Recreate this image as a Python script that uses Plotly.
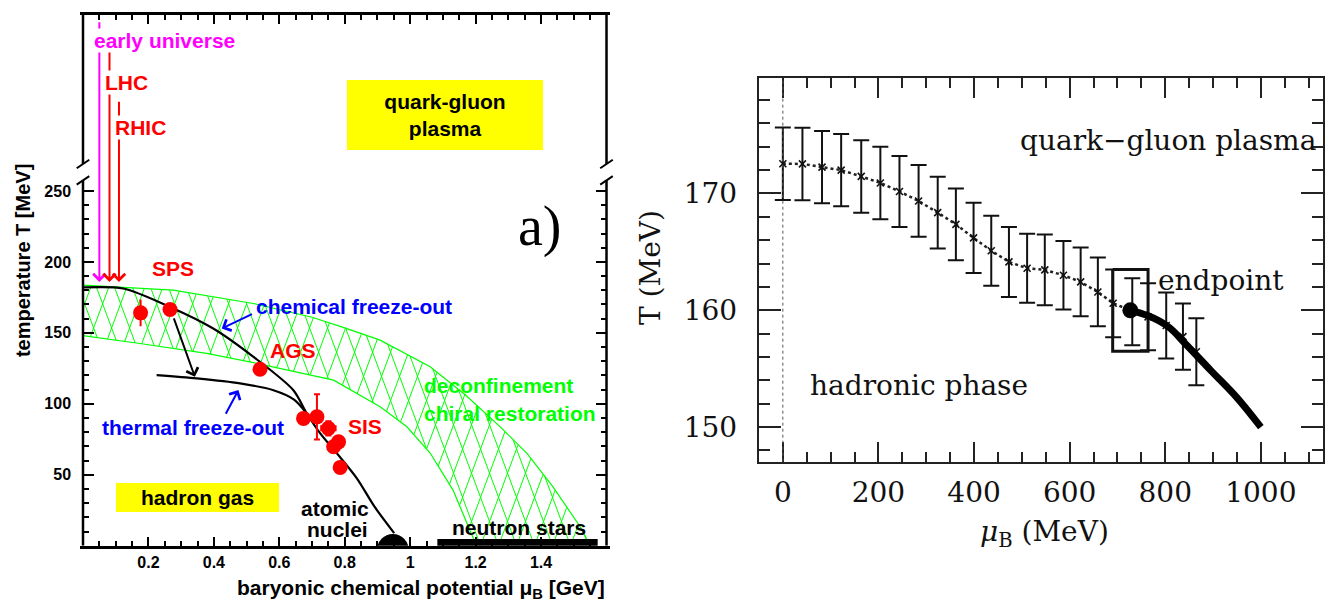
import numpy as np
import plotly.graph_objects as go

# ---------------- Left panel data (mu_B in GeV, T in MeV) ----------------
chem_mu = [0.0, 0.123, 0.266, 0.398, 0.521, 0.643, 0.684, 0.725, 0.776, 0.837, 0.891, 0.951]
chem_T = [182.0, 181.3, 168.3, 153.1, 133.1, 109.6, 93.2, 79.2, 65.1, 47.5, 27.5, 8.9]

therm_mu = [0.225, 0.348, 0.48, 0.582, 0.645, 0.684]
therm_T = [120.2, 117.9, 114.4, 109.6, 103.0, 93.2]

band_up_mu = [0.0, 0.276, 0.521, 0.70, 0.80, 0.908, 1.061, 1.17, 1.28, 1.357, 1.437, 1.52, 1.541]
band_up_T = [183.6, 180.1, 170.7, 161.0, 153.5, 144.9, 126.1, 106.0, 82.7, 65.1, 41.3, 13.2, 4.0]
band_lo_mu = [0.0, 0.174, 0.378, 0.531, 0.766, 0.908, 0.99, 1.061, 1.131, 1.183, 1.199]
band_lo_T = [148.0, 142.5, 135.5, 128.5, 116.7, 97.9, 83.8, 65.3, 39.2, 11.1, 1.9]

sps_mu = [0.176, 0.266]
sps_T = [164.1, 166.5]
sps_err = [9.4, 2.5]
ags_mu = [0.541]
ags_T = [124.4]
sis_mu = [0.674, 0.715, 0.750, 0.766, 0.781, 0.786]
sis_T = [89.7, 90.8, 82.7, 69.7, 73.2, 55.2]
sis_errT = [0.0, 16.0, 5.0, 0.0, 4.0, 0.0]
sis_errmu = [0.0, 0.0, 0.022, 0.0, 0.012, 0.0]

collider_mu = [0.050, 0.081, 0.110]
collider_top_T = [370.0, 349.0, 314.0]
collider_tip_T = 185.9
collider_labels = ["early universe", "LHC", "RHIC"]
collider_label_T = [356.1, 326.5, 294.9]
collider_label_mu = [0.031, 0.064, 0.096]
collider_colors = ["#ff00ff", "#ff0000", "#ff0000"]

nuclei_mu = [0.947]
nuclei_T = [-3.0]
nstar_mu = [1.083, 1.573]
nstar_T = [2.3, 2.3]

x_ticks_left = [0.2, 0.4, 0.6, 0.8, 1.0, 1.2, 1.4]
x_ticktext_left = ["0.2", "0.4", "0.6", "0.8", "1", "1.2", "1.4"]
y_ticks_left = [50, 100, 150, 200, 250]

# ---------------- Right panel data (MeV) ----------------
lat_mu = [0, 41, 82, 122, 164, 204, 244, 284, 324, 362, 399, 436, 473, 511, 548, 587,
          623, 659, 691, 731, 764, 802, 837, 865]
lat_T = [172.55, 172.53, 172.26, 172.0, 171.46, 170.9, 170.17, 169.36, 168.36, 167.36,
         166.2, 165.1, 164.14, 163.6, 163.46, 163.0, 162.43, 161.57, 160.6, 159.87,
         159.44, 158.7, 157.75, 156.45]
lat_err = [3.1, 3.1, 3.1, 3.1, 3.1, 3.1, 3.03, 3.07, 3.07, 3.07, 3.0, 3.0, 3.0, 2.95,
           3.03, 2.93, 2.94, 2.94, 2.9, 2.87, 2.87, 2.83, 2.83, 2.87]

crit_mu = [725, 762, 807, 842, 895, 949, 1000]
crit_T = [160.0, 159.57, 158.57, 157.14, 154.86, 152.57, 150.0]

ep_mu, ep_T, ep_dmu, ep_dT = 727.0, 160.0, 37.0, 3.5

x_ticks_right = [0, 200, 400, 600, 800, 1000]
y_ticks_right = [150, 160, 170]

# ---------------- styles ----------------
GREEN = "#00ff00"
RED = "#ff0000"
BLUE = "#0000ff"
SANS = "Liberation Sans"
SERIF = "DejaVu Serif"
HATCH_SPACING = 0.055     # GeV between parallel hatch lines
HATCH_SLOPE = 620.0       # MeV per GeV
BREAK_LO, BREAK_HI = 257.5, 269.0
Y_TOP = 374.0


def hatch_segments():
    grid = np.linspace(0.0, 1.6, 4001)
    up = np.interp(grid, band_up_mu, band_up_T, right=-1.0)
    lo = np.maximum(np.interp(grid, band_lo_mu, band_lo_T, right=0.0), 0.0)
    xs, ys = [], []
    for sign in (1, -1):
        for c in np.arange(-0.6, 2.3, HATCH_SPACING):
            tl = sign * HATCH_SLOPE * (grid - c)
            inside = (tl <= up) & (tl >= lo) & (up > lo)
            idx = np.flatnonzero(inside)
            if idx.size < 2:
                continue
            splits = np.where(np.diff(idx) > 1)[0]
            starts = np.r_[idx[0], idx[splits + 1]]
            ends = np.r_[idx[splits], idx[-1]]
            for a, b in zip(starts, ends):
                if b > a:
                    xs += [grid[a], grid[b], None]
                    ys += [tl[a], tl[b], None]
    return xs, ys


fig = go.Figure()

hx, hy = hatch_segments()
L = dict(xaxis="x", yaxis="y", hoverinfo="skip", showlegend=False)
R = dict(xaxis="x2", yaxis="y2", hoverinfo="skip", showlegend=False)

fig.add_trace(go.Scatter(x=hx, y=hy, mode="lines", line=dict(color=GREEN, width=1), **L))
fig.add_trace(go.Scatter(x=band_up_mu, y=band_up_T, mode="lines", line=dict(color=GREEN, width=1.2), **L))
fig.add_trace(go.Scatter(x=band_lo_mu, y=band_lo_T, mode="lines", line=dict(color=GREEN, width=1.2), **L))

fig.add_trace(go.Scatter(x=chem_mu, y=chem_T, mode="lines",
                         line=dict(color="black", width=2.2, shape="spline", smoothing=0.8), **L))
fig.add_trace(go.Scatter(x=therm_mu, y=therm_T, mode="lines",
                         line=dict(color="black", width=2.2, shape="spline", smoothing=0.8), **L))

fig.add_trace(go.Scatter(x=sps_mu, y=sps_T, mode="markers",
                         marker=dict(color=RED, size=15),
                         error_y=dict(type="data", array=sps_err, color=RED, thickness=2, width=0), **L))
fig.add_trace(go.Scatter(x=ags_mu, y=ags_T, mode="markers", marker=dict(color=RED, size=15), **L))
fig.add_trace(go.Scatter(x=sis_mu, y=sis_T, mode="markers",
                         marker=dict(color=RED, size=15),
                         error_y=dict(type="data", array=sis_errT, color=RED, thickness=2, width=3),
                         error_x=dict(type="data", array=sis_errmu, color=RED, thickness=2, width=3), **L))

fig.add_trace(go.Scatter(x=nstar_mu, y=nstar_T, mode="lines", line=dict(color="black", width=7), **L))
fig.add_trace(go.Scatter(x=nuclei_mu, y=nuclei_T, mode="markers", marker=dict(color="black", size=32),
                         cliponaxis=True, **L))

# ---------------- right panel traces ----------------
dot_mu = [m for m in lat_mu if m < ep_mu] + [ep_mu]
dot_T = [t for m, t in zip(lat_mu, lat_T) if m < ep_mu] + [ep_T]
fig.add_trace(go.Scatter(x=dot_mu, y=dot_T, mode="lines",
                         line=dict(color="#222222", width=2.5, dash="dot"), **R))
fig.add_trace(go.Scatter(x=lat_mu, y=lat_T, mode="markers",
                         marker=dict(symbol="x-thin", size=7, line=dict(width=1.6, color="#111111")),
                         error_y=dict(type="data", array=lat_err, color="#111111", thickness=2, width=8), **R))
box_x = [ep_mu - ep_dmu, ep_mu + ep_dmu, ep_mu + ep_dmu, ep_mu - ep_dmu, ep_mu - ep_dmu]
box_y = [ep_T + ep_dT, ep_T + ep_dT, ep_T - ep_dT, ep_T - ep_dT, ep_T + ep_dT]
fig.add_trace(go.Scatter(x=box_x, y=box_y, mode="lines", line=dict(color="#111111", width=3), **R))
fig.add_trace(go.Scatter(x=crit_mu, y=crit_T, mode="lines",
                         line=dict(color="black", width=7, shape="spline"), **R))
fig.add_trace(go.Scatter(x=[ep_mu], y=[ep_T], mode="markers", marker=dict(color="black", size=16), **R))

# ---------------- axes ----------------
bold_tick = dict(family=SANS, size=16, color="black", weight="bold")
fig.update_layout(
    width=1325, height=601, margin=dict(l=0, r=0, t=0, b=0),
    paper_bgcolor="white", plot_bgcolor="rgba(0,0,0,0)", showlegend=False,
    xaxis=dict(domain=[0.06264, 0.45774], range=[0, 1.6], anchor="y",
               showline=True, linecolor="black", linewidth=2.5, mirror="ticks",
               ticks="inside", ticklen=9, tickwidth=1.5, tickcolor="black",
               tickvals=x_ticks_left, ticktext=x_ticktext_left, tickfont=bold_tick,
               ticklabelstandoff=0,
               minor=dict(tickvals=list(np.round(np.arange(0.05, 1.6, 0.05), 3)),
                          ticks="inside", ticklen=5, tickwidth=1.5, tickcolor="black"),
               showgrid=False, zeroline=False),
    yaxis=dict(domain=[0.092, 0.975], range=[0, Y_TOP], anchor="x",
               showline=True, linecolor="rgba(0,0,0,0)", linewidth=2.5, mirror="ticks",
               ticks="inside", ticklen=11, tickwidth=1.5, tickcolor="black",
               tickvals=y_ticks_left, tickfont=bold_tick, ticklabelstandoff=6,
               minor=dict(tickvals=list(range(10, 260, 10)), ticks="inside", ticklen=6,
                          tickwidth=1.5, tickcolor="black"),
               showgrid=False, zeroline=False),
    xaxis2=dict(domain=[0.5726, 0.9985], range=[-50.5, 1130], anchor="y2",
                showline=True, linecolor="#222222", linewidth=2, mirror="ticks",
                ticks="inside", ticklen=20, tickwidth=1.5, tickcolor="#222222",
                tickvals=x_ticks_right,
                tickfont=dict(family=SERIF, size=28, color="#111111"), ticklabelstandoff=5,
                minor=dict(tickvals=list(range(-50, 1131, 50)), ticks="inside", ticklen=10,
                           tickwidth=1.5, tickcolor="#222222"),
                showgrid=False, zeroline=False),
    yaxis2=dict(domain=[0.2318, 0.8697], range=[147.04, 179.86], anchor="x2",
                showline=True, linecolor="#222222", linewidth=2, mirror="ticks",
                ticks="inside", ticklen=22, tickwidth=1.5, tickcolor="#222222",
                tickvals=y_ticks_right,
                tickfont=dict(family=SERIF, size=28, color="#111111"), ticklabelstandoff=14,
                minor=dict(tickvals=list(range(148, 180, 2)), ticks="inside", ticklen=11,
                           tickwidth=1.5, tickcolor="#222222"),
                showgrid=False, zeroline=False),
)

# broken left/right frame of the left panel
for xd in (0, 1):
    fig.add_shape(type="line", xref="x domain", yref="y", x0=xd, x1=xd, y0=0, y1=BREAK_LO,
                  line=dict(color="black", width=2.5))
    fig.add_shape(type="line", xref="x domain", yref="y", x0=xd, x1=xd, y0=BREAK_HI, y1=Y_TOP,
                  line=dict(color="black", width=2.5))
    for b in (BREAK_LO, BREAK_HI):
        fig.add_shape(type="line", xref="x domain", yref="y", x0=xd - 0.012, x1=xd + 0.012,
                      y0=b - 3, y1=b + 3, line=dict(color="black", width=2))

# dotted line at mu = 0 (right panel)
fig.add_shape(type="line", xref="x2", yref="y2 domain", x0=0, x1=0, y0=0, y1=1,
              line=dict(color="#555555", width=1, dash="dot"))

# ---------------- arrows ----------------
for mu, top, col in zip(collider_mu, collider_top_T, collider_colors):
    fig.add_annotation(x=mu, y=collider_tip_T, ax=mu, ay=top, xref="x", yref="y",
                       axref="x", ayref="y", text="", showarrow=True, arrowhead=4,
                       arrowsize=1.2, arrowwidth=2, arrowcolor=col)

arrows = [
    ((0.342, 119.0), (0.276, 161.3), "black"),
    ((0.424, 153.1), (0.521, 163.7), BLUE),
    ((0.475, 109.7), (0.434, 92.0), BLUE),
]
for (hx_, hy_), (tx_, ty_), col in arrows:
    fig.add_annotation(x=hx_, y=hy_, ax=tx_, ay=ty_, xref="x", yref="y", axref="x", ayref="y",
                       text="", showarrow=True, arrowhead=4, arrowsize=1.2, arrowwidth=2,
                       arrowcolor=col)


def label(text, x, y, color, size=21, xanchor="center", bg=None, family=SANS, weight="bold",
          xref="x", yref="y", **kw):
    fig.add_annotation(x=x, y=y, xref=xref, yref=yref, text=text, showarrow=False,
                       xanchor=xanchor, yanchor="middle",
                       font=dict(family=family, size=size, color=color, weight=weight),
                       bgcolor=bg, **kw)


for t, mu, T, col in zip(collider_labels, collider_label_mu, collider_label_T, collider_colors):
    label(t, mu, T, col, xanchor="left", bg="white", borderpad=0)

label("SPS", 0.276, 195.4, RED)
label("AGS", 0.643, 137.8, RED)
label("SIS", 0.862, 83.8, RED)
label("chemical freeze-out", 0.523, 168.3, BLUE, xanchor="left")
label("thermal freeze-out", 0.336, 83.6, BLUE)
label("deconfinement", 1.036, 113.2, GREEN, xanchor="left")
label("chiral restoration", 1.036, 93.2, GREEN, xanchor="left")
label("atomic", 0.771, 26.0, "black", borderpad=0)
label("nuclei", 0.777, 11.5, "black", borderpad=0)
label("neutron stars", 1.333, 13.0, "black")
label("a)", 1.398, 225.2, "black", size=56, family="Liberation Serif", weight="normal")
label("quark-gluon<br>plasma", 1.105, 303.8, "black", bg="#ffff00", width=196, height=70,
      borderpad=0, borderwidth=0)
label("hadron gas", 0.349, 34.2, "black", bg="#ffff00", width=163, height=29,
      borderpad=0, borderwidth=0)

label("temperature T [MeV]", 0.0174, 0.5657, "black", size=20, xref="paper", yref="paper",
      textangle=-90)
label("baryonic chemical potential μ<sub>B</sub> [GeV]", 0.3177, 0.0200, "black", size=21,
      xref="paper", yref="paper")

# right panel texts
label("quark\u2212gluon plasma", 492, 174.57, "#111111", size=28, family=SERIF, weight="normal",
      xanchor="left", xref="x2", yref="y2")
label("endpoint", 780, 162.57, "#111111", size=28, family=SERIF, weight="normal",
      xanchor="left", xref="x2", yref="y2")
label("hadronic phase", 52.5, 153.57, "#111111", size=28, family=SERIF, weight="normal",
      xanchor="left", xref="x2", yref="y2")
label("T (MeV)", 0.491, 0.555, "#111111", size=28, family=SERIF, weight="normal",
      xref="paper", yref="paper", textangle=-90)
label("<i>μ</i><sub>B</sub> (MeV)", 0.788, 0.1131, "#111111", size=28, family=SERIF,
      weight="normal", xref="paper", yref="paper")

fig.write_html("out.html")
